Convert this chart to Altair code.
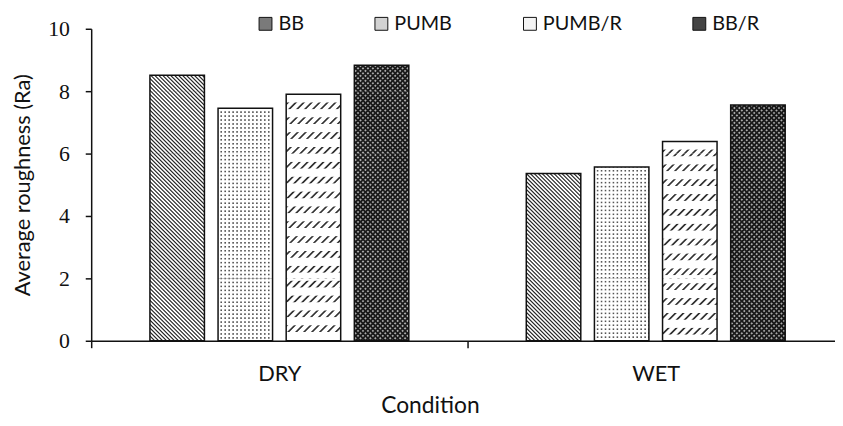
import math
import altair as alt
import pandas as pd

CONDITIONS = ["DRY", "WET"]
MATERIALS = ["BB", "PUMB", "PUMB/R", "BB/R"]
BB = [8.51, 5.36]
PUMB = [7.45, 5.57]
PUMB_R = [7.90, 6.39]
BB_R = [8.83, 7.56]
Y_TICKS = [0, 2, 4, 6, 8, 10]

series = {"BB": BB, "PUMB": PUMB, "PUMB/R": PUMB_R, "BB/R": BB_R}
rows = []
for m in MATERIALS:
    for i, c in enumerate(CONDITIONS):
        rows.append({"condition": c, "material": m, "value": series[m][i]})
df = pd.DataFrame(rows)

# bars are filled in pieces of SEG units so the pattern gradients stay short
SEG = 2
seg_rows = []
for r in rows:
    lo = 0
    while lo < r["value"]:
        hi = min(lo + SEG, r["value"])
        seg_rows.append({"condition": r["condition"], "material": r["material"],
                         "lo": lo, "hi": hi, "top": r["value"], "sid": len(seg_rows)})
        lo += SEG
seg_df = pd.DataFrame(seg_rows)

# ---- geometry used only to shape the pattern fills ----
PLOT_W, PLOT_H = 751, 315
X_RANGE = [0, 760]
P_IN, P_OUT = 0.2, 0.862
BAND = (X_RANGE[1] - X_RANGE[0]) / len(CONDITIONS)
STEP = BAND / (len(MATERIALS) - P_IN + 2 * P_OUT)
BAR_W = STEP * (1 - P_IN)
PX = PLOT_H / 10.0
R2 = math.sqrt(2)


def rgba(h, a=1.0):
    h = h.lstrip("#")
    return (int(h[0:2], 16), int(h[2:4], 16), int(h[4:6], 16), a)


WHITE = rgba("#ffffff")
CLEAR = rgba("#ffffff", 0.0)


def mix(c1, c2, w):
    return tuple(c1[i] + (c2[i] - c1[i]) * w for i in range(4))


def css(c):
    return "rgba(%d,%d,%d,%.3f)" % (round(c[0]), round(c[1]), round(c[2]), c[3])


def stripes(kind, W, Hs, period, frac, on, off, s0, ramp=0.45):
    if kind == "h":
        x1, y1, x2, y2, span = 0, 0, 0, 1, Hs
    elif kind == "v":
        x1, y1, x2, y2, span = 0, 0, 1, 0, W
    else:
        r = Hs / W
        k = (1 + r) / (1 + r * r)
        span = (W + Hs) / R2
        if kind == "back":
            x1, y1, x2, y2 = 0, 1, k, 1 - k * r
        else:
            x1, y1, x2, y2 = 0, 0, k, k * r
    rh = min(ramp, frac * period / 2 * 0.95, (1 - frac) * period / 2 * 0.95)
    knots = []
    m = math.floor(s0 / period) - 2
    while m * period - s0 < span + 2 * period:
        a = m * period - s0
        b = a + frac * period
        c = a + period
        knots += [(a + rh, 0.0), (b - rh, 0.0), (b + rh, 1.0), (c - rh, 1.0)]
        m += 1

    def val(s):
        for i in range(len(knots) - 1):
            p, v = knots[i]
            q, w = knots[i + 1]
            if p <= s <= q:
                return v if q == p else v + (w - v) * (s - p) / (q - p)
        return 1.0

    pts = [(0.0, val(0.0))] + [(p, v) for p, v in knots if 0 < p < span] + [(span, val(span))]
    stops = [{"offset": round(p / span, 5), "color": css(mix(on, off, v))} for p, v in pts]
    return {"gradient": "linear", "x1": round(x1, 5), "y1": round(y1, 5),
            "x2": round(x2, 5), "y2": round(y2, 5), "stops": stops}


def pattern_layers(material, lo, hi, top):
    W = BAR_W
    L, U, V = lo * PX, hi * PX, top * PX
    Hs = U - L
    if material == "BB":
        return [stripes("back", W, Hs, 4 / R2, 0.42, rgba("#2a2a2a"), WHITE, L / R2)]
    if material == "PUMB":
        return [stripes("h", W, Hs, 4.0, 0.4, rgba("#555555"), WHITE, V - U + 1.0),
                stripes("v", W, Hs, 4.0, 0.6, WHITE, CLEAR, 0)]
    if material == "PUMB/R":
        return [stripes("fwd", W, Hs, 8 / R2, 0.3, rgba("#333333"), WHITE, -U / R2),
                stripes("h", W, Hs, 15.0, 0.55, WHITE, CLEAR, V - U)]
    return [stripes("back", W, Hs, 5 / R2, 0.5, rgba("#1a1a1a"), rgba("#aaaaaa"), L / R2),
            stripes("fwd", W, Hs, 5 / R2, 0.5, rgba("#1a1a1a"), rgba("#1a1a1a", 0.0), -U / R2)]


SANS = "Lato"
SERIF = "Liberation Serif"

x_enc = alt.X(
    "condition:N",
    scale=alt.Scale(domain=CONDITIONS, range=X_RANGE, paddingInner=0, paddingOuter=0),
    axis=alt.Axis(
        title="Condition", labelAngle=0, tickBand="extent", tickSize=7,
        tickColor="#111", tickWidth=1.5, domainColor="#111", domainWidth=1.5,
        labelFont=SANS, labelFontSize=22, labelColor="#111",
        labelBaseline="alphabetic", labelPadding=33,
        titleFont=SANS, titleFontSize=23, titleFontWeight="normal", titleColor="#111",
        titleX=342, titleY=72, titleBaseline="alphabetic", titleAlign="center",
    ),
)
xo_enc = alt.XOffset(
    "material:N",
    scale=alt.Scale(domain=MATERIALS, paddingInner=P_IN, paddingOuter=P_OUT),
)
y_axis = alt.Axis(
    title="Average roughness (Ra)", values=Y_TICKS, grid=False, tickSize=6,
    tickColor="#111", tickWidth=1.5, domainColor="#111", domainWidth=1.5,
    labelFont=SERIF, labelFontSize=22, labelColor="#111", labelPadding=16,
    titleFont=SANS, titleFontSize=22, titleFontWeight="normal", titleColor="#111",
    titleAngle=270, titleX=-62, titleY=PLOT_H / 2, titleBaseline="alphabetic",
    titleAlign="center",
)
y_scale = alt.Scale(domain=[0, 10], nice=False)
y_enc = alt.Y("value:Q", scale=y_scale, axis=y_axis)

base = alt.Chart(df).mark_bar(strokeWidth=0).encode(
    x=x_enc, xOffset=xo_enc, y=y_enc,
    color=alt.Color(
        "material:N",
        scale=alt.Scale(domain=MATERIALS, range=["#7a7a7a", "#d2d2d2", "#f4f4f4", "#444444"]),
        legend=alt.Legend(
            title=None, orient="none", direction="horizontal", legendX=166, legendY=-15,
            symbolType="square", symbolSize=169, symbolStrokeColor="#111",
            symbolStrokeWidth=1, symbolOpacity=1, labelFont=SANS, labelFontSize=20,
            labelColor="#111", labelOffset=3, columnPadding=68,
        ),
    ),
)

layers = [base]
for s in seg_rows:
    for g in pattern_layers(s["material"], s["lo"], s["hi"], s["top"]):
        layers.append(
            alt.Chart(seg_df)
            .transform_filter(alt.datum.sid == s["sid"])
            .mark_bar(fill=g, strokeWidth=0)
            .encode(x=x_enc, xOffset=xo_enc,
                    y=alt.Y("hi:Q", scale=y_scale, axis=y_axis),
                    y2="lo:Q")
        )

outline = alt.Chart(df).mark_bar(fillOpacity=0, stroke="#111", strokeWidth=1.5).encode(
    x=x_enc, xOffset=xo_enc, y=y_enc
)
layers.append(outline)

chart = (
    alt.layer(*layers)
    .properties(
        width=PLOT_W, height=PLOT_H,
        autosize=alt.AutoSizeParams(type="none"),
        padding={"left": 84, "top": 19, "right": 0, "bottom": 76},
        background="white",
    )
    .configure_view(stroke=None)
)

chart.save("out.html", embed_options={"renderer": "svg", "actions": False})
